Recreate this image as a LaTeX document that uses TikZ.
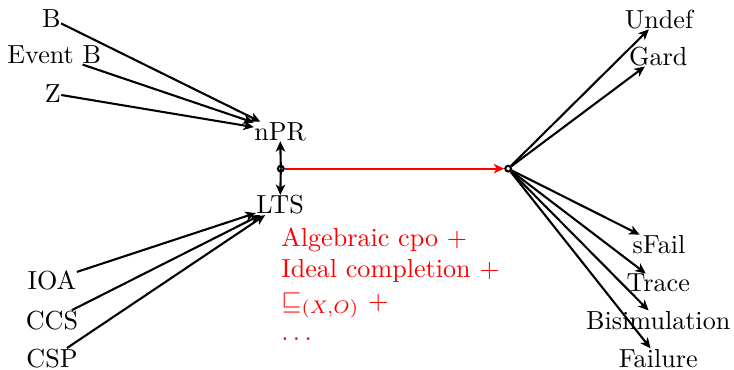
\documentclass[tikz,border=0pt]{standalone}
\usepackage{amssymb}
\usetikzlibrary{arrows.meta,positioning,calc}
\definecolor{LinkRed}{HTML}{FF0000}

\begin{document}
\begin{tikzpicture}[x=1cm,y=1cm,
  lang/.style={inner sep=0pt},
  link/.style={thick,-{Stealth[length=4pt,width=3.6pt,inset=1.1pt]}},
  dot/.style={circle,draw,thick,fill=white,inner sep=0pt,minimum size=2.2pt}]
  \useasboundingbox (0,0) rectangle (9.88,4.97);
  % source formalisms
  \node[lang] (b)      at (0.69,4.72) {B};
  \node[lang] (eventb) at (0.73,4.23) {Event B};
  \node[lang] (z)      at (0.71,3.71) {Z};
  \node[lang] (ioa)    at (0.70,1.20) {IOA};
  \node[lang] (ccs)    at (0.70,0.66) {CCS};
  \node[lang] (csp)    at (0.70,0.15) {CSP};
  % semantic models
  \node[lang] (npr) at (3.77,3.20) {nPR};
  \node[lang] (lts) at (3.77,2.21) {LTS};
  \node[dot]  (l)   at (3.78,2.70) {};
  \node[dot]  (r)   at (6.84,2.70) {};
  % refinements
  \node[lang] (undef) at (8.87,4.71) {Undef};
  \node[lang] (gard)  at (8.86,4.21) {Gard};
  \node[lang] (sfail) at (8.87,1.68) {sFail};
  \node[lang] (trace) at (8.86,1.16) {Trace};
  \node[lang] (bisim) at (8.86,0.66) {Bisimulation};
  \node[lang] (fail)  at (8.86,0.15) {Failure};
  \node[lang,anchor=north west,align=left,text=LinkRed] (theory) at (3.78,1.91)
    {Algebraic cpo +\\Ideal completion +\\$\sqsubseteq_{(X,O)}$ +\\$\ldots$};

  \foreach \s in {b,eventb,z} \draw[link] (\s) -- (npr);
  \foreach \s in {ioa,ccs,csp} \draw[link] (\s) -- (lts);
  \draw[link] (l.center) -- (npr);
  \draw[link] (l.center) -- (lts);
  \draw[link,LinkRed] (l) -- (r);
  \foreach \t in {undef,gard,sfail,trace,bisim,fail} \draw[link] (r) -- (\t);
\end{tikzpicture}
\end{document}
